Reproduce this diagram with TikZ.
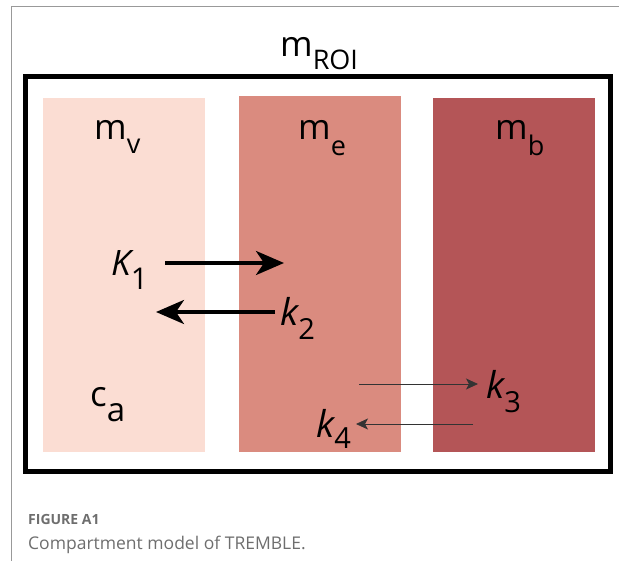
\documentclass[tikz,border=0pt]{standalone}
\usepackage{fontspec}
\setmainfont{Open Sans}
\usepackage{tikz}
\usetikzlibrary{positioning, arrows.meta}
\definecolor{vascpink}{HTML}{FBDDD3}
\definecolor{extrapink}{HTML}{DA8B7F}
\definecolor{boundred}{HTML}{B45557}
\definecolor{captiongray}{HTML}{6E6E6E}
\newcommand{\lowsub}[3]{\raisebox{-#1}{\upshape\fontsize{#2}{#2}\selectfont #3}}
\tikzset{
    compartment/.style={
        rectangle, inner sep=0pt, outer sep=0pt, anchor=north west,
        minimum width=162pt, minimum height=354pt
    },
    poolname/.style={inner sep=0pt, anchor=base west, font=\fontsize{35}{35}\selectfont},
    ratename/.style={inner sep=0pt, anchor=base west, font=\itshape\fontsize{37}{37}\selectfont},
    bigflow/.style={line width=3.6pt, -{Stealth[length=28pt, width=24pt, inset=8pt]}},
    smallflow/.style={line width=0.8pt, draw=black!80, -{Stealth[length=12pt, width=11pt, inset=3pt]}}
}

\begin{document}
\begin{tikzpicture}[x=1pt, y=-1pt]
    \useasboundingbox (0,0) rectangle (619,561);
    % screenshot frame
    \draw[gray!80, line width=1pt] (11,561) -- (11,7) -- (619,7);

    % compartments
    \node[compartment, fill=vascpink] (vasc) at (43,98) {};
    \node[compartment, fill=extrapink, minimum height=356pt] (extra) at (239,96) {};
    \node[compartment, fill=boundred] (bound) at (433,98) {};
    \draw[line width=5pt] (25,77) rectangle (610,471);

    % labels
    \node[poolname] (roi) at (280,57) {m\lowsub{13pt}{27}{ROI}};
    \node[poolname] (mv) at (94,140) {m\lowsub{14pt}{27}{v}};
    \node[poolname] (me) at (298,140) {m\lowsub{16pt}{27}{e}};
    \node[poolname] (mb) at (495,140) {m\lowsub{16pt}{27}{b}};
    \node[poolname] (ca) at (90,407) {c\lowsub{15pt}{33}{a}};

    \node[ratename, font=\itshape\fontsize{35}{35}\selectfont] (K1) at (111,276) {K\lowsub{14pt}{30}{1}};
    \node[ratename] (k2) at (280,326) {k\lowsub{14pt}{29}{2}};
    \node[ratename] (k3) at (486,399) {k\lowsub{14pt}{29}{3}};
    \node[ratename] (k4) at (316,438) {k\lowsub{11pt}{29}{4}};

    % flows
    \coordinate (k1a) at (165,263);
    \coordinate (k1b) at (284,263);
    \coordinate (k2a) at (275,312);
    \coordinate (k2b) at (156,312);
    \coordinate (k3a) at (359,384);
    \coordinate (k3b) at (478,384);
    \coordinate (k4a) at (473,424);
    \coordinate (k4b) at (356,424);
    \draw[bigflow] (k1a) -- (k1b);
    \draw[bigflow] (k2a) -- (k2b);
    \draw[smallflow] (k3a) -- (k3b);
    \draw[smallflow] (k4a) -- (k4b);

    % caption
    \node[inner sep=0pt, anchor=base west, text=captiongray, font=\bfseries\fontsize{14}{14}\selectfont] (figno) at (28,524) {FIGURE A1};
    \node[inner sep=0pt, anchor=base west, text=captiongray, font=\fontsize{17.5}{17.5}\selectfont] (figcap) at (28,549) {Compartment model of TREMBLE.};
\end{tikzpicture}
\end{document}
